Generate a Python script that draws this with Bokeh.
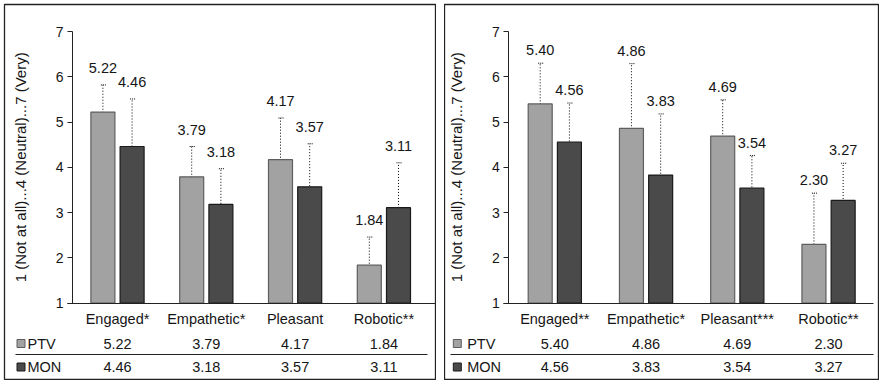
import math
from bokeh.plotting import figure
from bokeh.layouts import row
from bokeh.models import (Range1d, FixedTicker, Whisker, TeeHead,
                          ColumnDataSource, LinearAxis)
from bokeh.embed import file_html
from bokeh.resources import INLINE
from bokeh.core.properties import value

# ---------------- data ----------------
series_names = ["PTV", "MON"]
y_ticks = [1, 2, 3, 4, 5, 6, 7]
y_axis_title = "1 (Not at all)...4 (Neutral)...7 (Very)"

categories_left = ["Engaged*", "Empathetic*", "Pleasant", "Robotic**"]
ptv_left = [5.22, 3.79, 4.17, 1.84]
mon_left = [4.46, 3.18, 3.57, 3.11]
ptv_left_lo = [4.61, 3.11, 3.22, 1.21]
ptv_left_hi = [5.82, 4.46, 5.09, 2.46]
mon_left_lo = [3.40, 2.40, 2.59, 2.11]
mon_left_hi = [5.51, 3.97, 4.52, 4.10]

categories_right = ["Engaged**", "Empathetic*", "Pleasant***", "Robotic**"]
ptv_right = [5.40, 4.86, 4.69, 2.30]
mon_right = [4.56, 3.83, 3.54, 3.27]
ptv_right_lo = [4.53, 3.45, 3.87, 1.17]
ptv_right_hi = [6.30, 6.29, 5.49, 3.43]
mon_right_lo = [3.71, 2.47, 2.83, 2.44]
mon_right_hi = [5.42, 5.18, 4.26, 4.09]

# ---------------- style / layout ----------------
FONT = "Liberation Sans"
TXT = "#151515"
AX = "#222222"
PTV_FILL, PTV_LINE = "#a2a2a2", "#5e5e5e"
MON_FILL, MON_LINE = "#4a4a4a", "#1a1a1a"
H = 376            # panel (frame) height (px)
PAD = 4            # white space above / left of the panels
Y7_PX = 27         # pixel row of value 7
K = 45.28          # pixels per scale unit
BAR_W_PX = 24
BAR_OFF_PX = 14.6
ROW_PX = [339, 362.5]   # table rows (PTV, MON)
SEP_PX = 350


def make_panel(cats, ptv, mon, ptv_lo, ptv_hi, mon_lo, mon_hi,
               W, pad_left, axis_px, c0, sp, xline_px, legend_px, sep_px,
               ylab_px, gap):
    def xd(px):
        return (px - c0) / sp

    def yd(py):
        return 7 - (py - Y7_PX) / K

    x_idx = list(range(len(cats)))
    p = figure(width=W + pad_left, height=H + PAD,
               x_range=Range1d(xd(0), xd(W)),
               y_range=Range1d(yd(H), yd(0)),
               x_axis_type=None, y_axis_type=None,
               output_backend="svg", toolbar_location=None,
               min_border_left=pad_left, min_border_top=PAD,
               min_border_right=0, min_border_bottom=0)
    p.outline_line_color = AX
    p.outline_line_width = 1.3
    p.xgrid.visible = False
    p.ygrid.visible = False

    # y axis drawn inside the panel at a fixed location
    ya = LinearAxis(fixed_location=xd(axis_px), bounds=(1, 7),
                    ticker=FixedTicker(ticks=y_ticks))
    ya.minor_tick_line_color = None
    ya.major_tick_in = 0
    ya.major_tick_out = 5
    ya.major_label_standoff = 4
    ya.major_label_text_font = FONT
    ya.major_label_text_font_size = "14px"
    ya.major_label_text_color = TXT
    ya.axis_line_color = AX
    ya.major_tick_line_color = AX
    p.add_layout(ya, "left")

    # category axis along value 1
    xa = LinearAxis(fixed_location=1, bounds=(xd(xline_px[0]), xd(xline_px[1])),
                    ticker=FixedTicker(ticks=x_idx))
    xa.major_label_overrides = {i: c for i, c in zip(x_idx, cats)}
    xa.minor_tick_line_color = None
    xa.major_tick_in = 0
    xa.major_tick_out = 0
    xa.major_label_standoff = 8
    xa.major_label_text_font = FONT
    xa.major_label_text_font_size = "14.5px"
    xa.major_label_text_color = TXT
    xa.axis_line_color = AX
    p.add_layout(xa, "below")

    # y axis title
    p.text(x=[xd(ylab_px)], y=[4], text=[y_axis_title], angle=math.pi / 2,
           text_align="center", text_baseline="middle",
           text_font=value(FONT), text_font_size="15px", text_color=TXT)

    off = BAR_OFF_PX / sp
    bw = BAR_W_PX / sp
    for vals, lo, hi, sign, fc, lc in ((ptv, ptv_lo, ptv_hi, -1, PTV_FILL, PTV_LINE),
                                        (mon, mon_lo, mon_hi, 1, MON_FILL, MON_LINE)):
        src = ColumnDataSource(dict(
            x=[i + sign * off for i in x_idx], top=vals, lo=lo, hi=hi,
            lab=[f"{v:.2f}" for v in vals]))
        p.vbar(x="x", top="top", bottom=1, width=bw, source=src,
               fill_color=fc, line_color=lc, line_width=1.2)
        wh = Whisker(source=src, base="x", upper="hi", lower="lo",
                     line_color="#000", line_width=1, line_dash="1 2",
                     upper_head=TeeHead(size=6, line_color="#000", line_width=1, line_dash="1 1"),
                     lower_head=TeeHead(size=6, line_color="#000", line_width=1, line_dash="1 1"))
        p.add_layout(wh)
        p.text(x="x", y="hi", text="lab", source=src, y_offset=-gap,
               text_align="center", text_baseline="middle",
               text_font=value(FONT), text_font_size="14.5px", text_color=TXT)

    # data table under the axis
    rows_y = [yd(r) for r in ROW_PX]
    for yv, vals in zip(rows_y, (ptv, mon)):
        p.text(x=x_idx, y=[yv] * len(x_idx), text=[f"{v:.2f}" for v in vals],
               text_align="center", text_baseline="middle",
               text_font=value(FONT), text_font_size="14.5px", text_color=TXT)
    p.scatter(x=[xd(legend_px[0])] * 2, y=rows_y, marker="square", size=8,
              fill_color=[PTV_FILL, MON_FILL], line_color=[PTV_LINE, MON_LINE])
    p.text(x=[xd(legend_px[1])] * 2, y=rows_y, text=series_names,
           text_align="left", text_baseline="middle",
           text_font=value(FONT), text_font_size="14.5px", text_color=TXT)
    p.segment(x0=[xd(sep_px[0])], y0=[yd(SEP_PX)], x1=[xd(sep_px[1])], y1=[yd(SEP_PX)],
              line_color=AX, line_width=1)
    return p


left = make_panel(categories_left, ptv_left, mon_left, ptv_left_lo, ptv_left_hi,
                  mon_left_lo, mon_left_hi,
                  W=432, pad_left=PAD, axis_px=68, c0=113, sp=88.8, xline_px=(63, 431),
                  legend_px=(16.5, 23), sep_px=(11, 423), ylab_px=16, gap=17)
right = make_panel(categories_right, ptv_right, mon_right, ptv_right_lo, ptv_right_hi,
                   mon_right_lo, mon_right_hi,
                   W=435, pad_left=0, axis_px=64.3, c0=110.3, sp=91.25, xline_px=(59, 429),
                   legend_px=(12.8, 22.7), sep_px=(6, 429), ylab_px=12, gap=13)

p = row(left, right, spacing=8)

open("out.html", "w").write(file_html(p, INLINE))
